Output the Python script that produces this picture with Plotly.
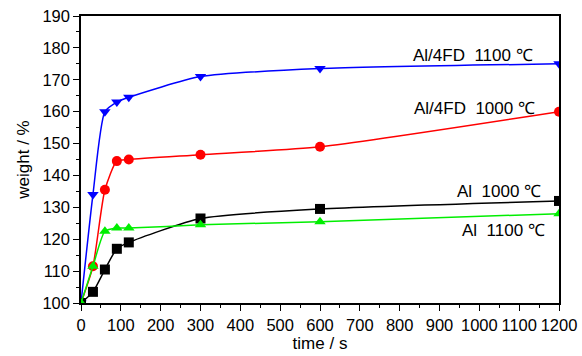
import plotly.graph_objects as go

time_s = [0, 30, 60, 90, 120, 300, 600, 1200]
al4fd_1100 = [100, 134, 160, 163, 164.5, 171, 173.5, 175]
al4fd_1000 = [100, 111.5, 135.5, 144.5, 145, 146.5, 149, 160]
al_1000 = [100, 103.5, 110.5, 117, 119, 126.5, 129.5, 132]
al_1100 = [100, 111.5, 122.5, 123.5, 123.5, 124.5, 125.5, 128]

series = [
    ("Al/4FD 1100", al4fd_1100, "#0000ff", "triangle-down"),
    ("Al/4FD 1000", al4fd_1000, "#ff0000", "circle"),
    ("Al 1000", al_1000, "#000000", "square"),
    ("Al 1100", al_1100, "#00ee00", "triangle-up"),
]

label_texts = ["Al/4FD  1100 ℃", "Al/4FD  1000 ℃", "Al  1000 ℃", "Al  1100 ℃"]
label_x = [1140, 1145, 1160, 1170]
label_y = [177.7, 161, 135, 122.6]

fig = go.Figure()
for name, ys, color, sym in series:
    fig.add_trace(go.Scatter(
        x=time_s, y=ys, mode="lines+markers", name=name,
        line=dict(color=color, width=1.5, shape="spline", smoothing=0.6),
        marker=dict(color=color, symbol=sym, size=10),
        cliponaxis=True,
    ))

font = "Liberation Sans, Arial, sans-serif"
for text, x, y in zip(label_texts, label_x, label_y):
    fig.add_annotation(x=x, y=y, text=text, showarrow=False, xanchor="right",
                       yanchor="middle",
                       font=dict(size=17, color="#000", family=font))

axis_common = dict(showline=True, linecolor="#000", linewidth=1.5, mirror=True,
                   ticks="outside", ticklen=6, tickwidth=1.2, tickcolor="#000",
                   showgrid=False, zeroline=False, automargin=False, tickangle=0,
                   tickfont=dict(size=16.5, color="#000", family=font),
                   minor=dict(ticks="outside", ticklen=3, tickcolor="#000", tickwidth=1))

fig.update_xaxes(range=[0, 1200], dtick=100, title=dict(text="time / s", standoff=4,
                 font=dict(size=17, color="#000", family=font)),
                 minor_dtick=50, **axis_common)
fig.update_yaxes(range=[100, 190], dtick=10, title=dict(text="weight / %", standoff=8,
                 font=dict(size=17, color="#000", family=font)),
                 minor_dtick=5, **axis_common)

fig.update_layout(width=582, height=356, margin=dict(l=81, r=23, t=16, b=53),
                  plot_bgcolor="white", paper_bgcolor="white", showlegend=False)

fig.write_html("out.html")
